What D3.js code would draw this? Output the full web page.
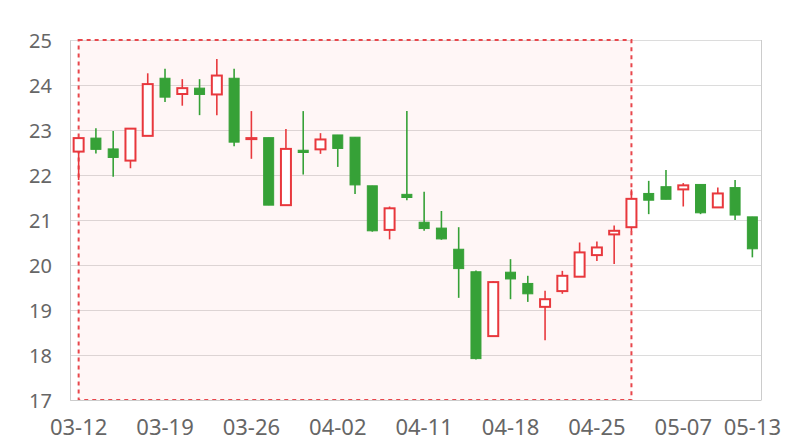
<!DOCTYPE html>
<html><head><meta charset="utf-8">
<script src="https://cdn.jsdelivr.net/npm/d3@7"></script>
<style>body{margin:0;background:#fff}svg{display:block}</style>
</head><body>
<svg id="c" width="800" height="440"></svg>
<script>
const dates = ["03-12","03-13","03-14","03-15","03-16","03-19","03-20","03-21","03-22","03-23",
"03-26","03-27","03-28","03-29","03-30","04-02","04-03","04-04","04-09","04-10",
"04-11","04-12","04-13","04-16","04-17","04-18","04-19","04-20","04-23","04-24",
"04-25","04-26","04-27","05-02","05-03","05-07","05-08","05-09","05-10","05-13"];
const openV  = [22.52,22.82,22.58,22.32,22.87,24.15,23.80,23.93,23.79,24.15,
22.80,22.83,21.33,22.55,22.57,22.89,22.84,21.76,20.78,21.57,
20.95,20.82,20.35,19.85,18.42,19.84,19.59,19.07,19.42,19.74,
20.22,20.68,20.84,21.59,21.74,21.68,21.79,21.28,21.72,21.07];
const closeV = [22.82,22.57,22.39,23.03,24.02,23.73,23.93,23.79,24.21,22.73,
22.82,21.33,22.58,22.50,22.79,22.59,21.78,20.76,21.26,21.50,
20.81,20.58,19.92,17.92,19.62,19.69,19.36,19.24,19.76,20.28,
20.39,20.76,21.47,21.44,21.46,21.77,21.16,21.59,21.11,20.36];
const lowV   = [21.89,22.48,21.96,22.15,22.87,23.62,23.54,23.33,23.33,22.64,
22.36,21.33,21.33,22.01,22.47,22.18,21.58,20.74,20.57,21.44,
20.76,20.56,19.27,17.90,18.42,19.24,19.18,18.33,19.36,19.74,
20.09,20.02,20.74,21.13,21.46,21.30,21.13,21.28,21.00,20.17];
const highV  = [22.84,23.04,22.98,23.03,24.26,24.36,24.13,24.13,24.58,24.36,
23.42,22.83,23.02,23.42,22.93,22.89,22.84,21.76,21.30,23.42,
21.63,21.20,20.84,19.88,19.64,20.13,19.76,19.43,19.87,20.50,
20.52,20.88,21.68,21.87,22.11,21.82,21.79,21.72,21.89,21.07];
const yTicks = [17,18,19,20,21,22,23,24,25];
const xTickLabels = ["03-12","03-19","03-26","04-02","04-11","04-18","04-25","05-07","05-13"];
const markStart = "03-12", markEnd = "04-27";

const rows = dates.map((d,i)=>({d, o:openV[i], c:closeV[i], l:lowV[i], h:highV[i]}));
const L=70, R=761, T=40, B=400;
const svg = d3.select("#c");
const x = d3.scaleBand().domain(dates).range([L,R]);
const y = d3.scaleLinear().domain([17,25]).range([B,T]);
const cx = d => x(d) + x.bandwidth()/2;
const font = "'Noto Sans', 'Open Sans', sans-serif";

// grid
svg.append("g").selectAll("line").data(yTicks).join("line")
  .attr("x1",L).attr("x2",R).attr("y1",d=>Math.round(y(d))+0.5).attr("y2",d=>Math.round(y(d))+0.5)
  .attr("stroke","#dcdcdc").attr("stroke-width",1);
svg.append("line").attr("x1",R+0.5).attr("x2",R+0.5).attr("y1",T).attr("y2",B).attr("stroke","#ccc");

// mark area
svg.append("rect").attr("x",cx(markStart)).attr("y",T)
  .attr("width",cx(markEnd)-cx(markStart)).attr("height",B-T)
  .attr("fill","rgba(255,80,80,0.05)").attr("stroke","#e8474c").attr("stroke-width",2)
  .attr("stroke-dasharray","4,4");

// axes
const yAxis = svg.append("g").attr("transform",`translate(${L},0)`)
  .call(d3.axisLeft(y).tickValues(yTicks).tickSize(0).tickPadding(18));
yAxis.select(".domain").attr("stroke","#ccc");
yAxis.selectAll("text").attr("font-family",font).attr("font-size",20).attr("fill","#666").attr("dy","0.36em");
const xAxis = svg.append("g").attr("transform",`translate(0,${B})`)
  .call(d3.axisBottom(x).tickValues(xTickLabels).tickSize(0));
xAxis.select(".domain").attr("stroke","#ccc");
xAxis.selectAll("text").attr("font-family",font).attr("font-size",22).attr("fill","#666")
  .attr("y",35).attr("dy",0);

// candles
const up="#e8383d", down="#36a137";
const bw = 10;
const g = svg.append("g");
g.selectAll("line.w").data(rows).join("line")
  .attr("x1",d=>cx(d.d)).attr("x2",d=>cx(d.d))
  .attr("y1",d=>y(d.h)).attr("y2",d=>y(d.l))
  .attr("stroke",d=>d.c>=d.o?up:down).attr("stroke-width",1.6);
g.selectAll("rect.b").data(rows).join("rect")
  .attr("x",d=>cx(d.d)-bw/2)
  .attr("y",d=>y(Math.max(d.o,d.c)))
  .attr("width",bw)
  .attr("height",d=>Math.max(1,Math.abs(y(d.o)-y(d.c))))
  .attr("fill",d=>d.c>=d.o?"#fff":down)
  .attr("stroke",d=>d.c>=d.o?up:down).attr("stroke-width",d=>d.c>=d.o?2:1);
</script>
</body></html>
